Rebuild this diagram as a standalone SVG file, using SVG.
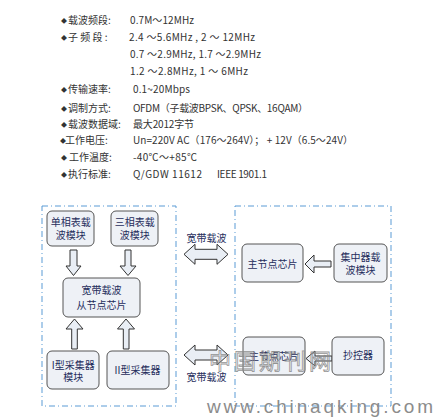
<svg xmlns="http://www.w3.org/2000/svg" width="437" height="417" viewBox="0 0 437 417">
<style>
.t{font-family:"Noto Sans CJK SC","Liberation Sans",sans-serif;font-size:10px;fill:#333}
.b{font-family:"Noto Sans CJK SC",sans-serif;font-size:6px;fill:#333}
.n{font-family:"Noto Sans CJK SC","Liberation Sans",sans-serif;font-size:10px;fill:#1f2d5c;text-anchor:middle}
.box{fill:#eef1f6;stroke:#555;stroke-width:1}
.grp{fill:none;stroke:#5b9bd5;stroke-width:1;stroke-dasharray:6 3 1 3}
.arr{fill:#e9eef5;stroke:#333;stroke-width:1;stroke-linejoin:miter}
.wm{font-family:"Noto Sans CJK SC",sans-serif;font-size:22px;fill:none;stroke:#8a8a8a;stroke-width:0.8;opacity:0.9}
.www{font-family:"Liberation Sans",sans-serif;font-size:19px;fill:#8c8c8c}
</style>
<rect width="437" height="417" fill="#fff"/>
<g id="specs">
<text class="b" x="61" y="23">◆</text><text class="t" x="68" y="24">载波频段:</text><text class="t" x="130" y="24" textLength="64">0.7M～12MHz</text>
<text class="b" x="61" y="40">◆</text><text class="t" x="68" y="41">子 频 段 :</text><text class="t" x="129" y="41" textLength="126">2.4 ～5.6MHz , 2 ～ 12MHz</text>
<text class="t" x="130" y="58" textLength="131">0.7 ～2.9MHz, 1.7 ～2.9MHz</text>
<text class="t" x="130" y="75" textLength="118">1.2 ～2.8MHz, 1 ～ 6MHz</text>
<text class="b" x="61" y="92">◆</text><text class="t" x="68" y="93">传输速率:</text><text class="t" x="133" y="93" textLength="57">0.1~20Mbps</text>
<text class="b" x="61" y="111">◆</text><text class="t" x="68" y="112">调制方式:</text><text class="t" x="133" y="112" textLength="175">OFDM（子载波BPSK、QPSK、16QAM）</text>
<text class="b" x="61" y="127">◆</text><text class="t" x="68" y="128">载波数据域:</text><text class="t" x="133" y="128" textLength="61">最大2012字节</text>
<text class="b" x="60" y="143">◆</text><text class="t" x="65" y="144">工作电压:</text><text class="t" x="133" y="144" textLength="220">Un=220V AC（176～264V）；  + 12V（6.5～24V）</text>
<text class="b" x="61" y="160">◆</text><text class="t" x="69" y="161">工作温度:</text><text class="t" x="133" y="161" textLength="64">-40℃～+85℃</text>
<text class="b" x="61" y="177">◆</text><text class="t" x="68" y="178">执行标准:</text><text class="t" x="133" y="178" textLength="69">Q/GDW 11612</text><text class="t" x="217" y="178" textLength="50">IEEE 1901.1</text>
</g>
<g id="groups">
<rect id="slave-side" class="grp" x="42" y="206" width="134" height="200"/>
<rect id="master-side" class="grp" x="235" y="206" width="156" height="200"/>
</g>
<g id="connectors">
<path class="arr" d="M70,250 H77 V266 H81 L73.5,275.5 L66,266 H70 Z"/>
<path class="arr" d="M125,250 H131 V266 H136 L128,275.5 L120,266 H125 Z"/>
<path class="arr" d="M71.7,349 V329 H66 L74.5,319 L83,329 H77.3 V349 Z"/>
<path class="arr" d="M123.3,349 V329 H117.5 L126,319 L134.5,329 H129 V349 Z"/>
<path class="arr" d="M331,261 H314 V255 L305,264 L314,273 V267 H331 Z"/>
<path class="arr" d="M332,356 H315 V351 L306,358.5 L315,366 V361 H332 Z"/>
<path class="arr" d="M184,254.3 L195,244.3 V249.3 H217 V244.3 L228,254.3 L217,264.3 V259.3 H195 V264.3 Z"/>
<path class="arr" d="M184,355 L195,345 V350 H217 V345 L228,355 L217,365 V360 H195 V365 Z"/>
<text class="n" x="206.5" y="242">宽带载波</text>
<text class="n" x="206.5" y="380.5">宽带载波</text>
</g>
<g id="n1"><rect class="box" x="47" y="211" width="47" height="35" rx="5"/><text class="n" x="70.7" y="225.5">单相表载</text><text class="n" x="70.7" y="238.5">波模块</text></g>
<g id="n2"><rect class="box" x="111" y="211" width="47" height="35" rx="5"/><text class="n" x="134.7" y="225.5">三相表载</text><text class="n" x="134.7" y="238.5">波模块</text></g>
<g id="n3"><rect class="box" x="63" y="278" width="77" height="39" rx="5"/><text class="n" x="101.5" y="293.5">宽带载波</text><text class="n" x="101.5" y="308.5">从节点芯片</text></g>
<g id="n4"><rect class="box" x="47" y="351" width="52" height="38" rx="5"/><text class="n" x="73.3" y="368.5">I型采集器</text><text class="n" x="73.3" y="381">模块</text></g>
<g id="n5"><rect class="box" x="107" y="351" width="62" height="38" rx="5"/><text class="n" x="137.5" y="374">II型采集器</text></g>
<g id="n6"><rect class="box" x="242" y="244" width="61" height="38" rx="5"/><text class="n" x="272.5" y="267.5">主节点芯片</text></g>
<g id="n7"><rect class="box" x="334" y="244" width="53" height="38" rx="5"/><text class="n" x="360.5" y="261">集中器载</text><text class="n" x="360.5" y="274">波模块</text></g>
<g id="n8"><rect class="box" x="243" y="337" width="62" height="38" rx="5"/><text class="n" x="274" y="359.5">主节点芯片</text></g>
<g id="n9"><rect class="box" x="332" y="337" width="52" height="38" rx="5"/><text class="n" x="358" y="359">抄控器</text></g>
<g id="watermark">
<text class="wm" x="209" y="369" letter-spacing="3">中国期刊网</text>
<text class="www" x="207" y="413" textLength="226">www.chinaqking.com</text>
</g>
</svg>
